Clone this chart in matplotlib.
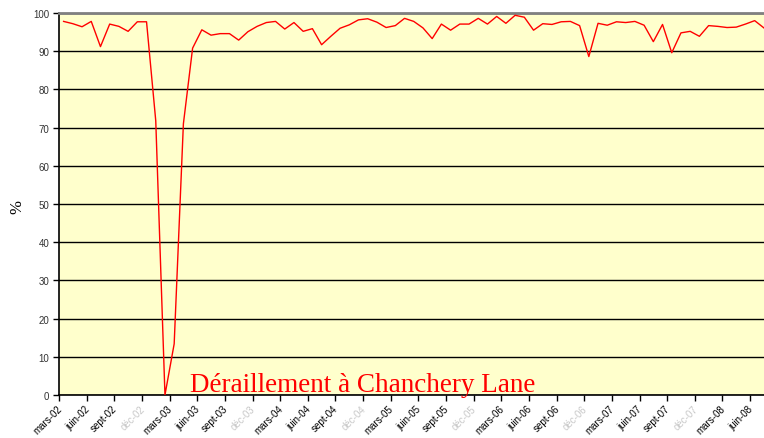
import matplotlib
matplotlib.use("Agg")
import matplotlib.pyplot as plt
import matplotlib.transforms as mtransforms

# monthly values, mars-02 .. juil-08
values = [
    97.8, 97.2, 96.4, 97.8, 91.2, 97.1, 96.5, 95.2, 97.7, 97.7,
    71.8, 0.0, 13.4, 71.0, 90.8, 95.6, 94.2, 94.6, 94.6, 92.9,
    95.1, 96.5, 97.5, 97.8, 95.8, 97.5, 95.2, 95.9, 91.7, 93.9,
    96.0, 96.9, 98.2, 98.5, 97.6, 96.2, 96.7, 98.6, 97.8, 96.1,
    93.3, 97.1, 95.5, 97.1, 97.1, 98.6, 97.1, 99.1, 97.3, 99.4,
    98.9, 95.5, 97.2, 97.0, 97.7, 97.8, 96.7, 88.6, 97.3, 96.8,
    97.7, 97.5, 97.8, 96.8, 92.5, 97.0, 89.6, 94.8, 95.2, 93.9,
    96.7, 96.5, 96.2, 96.3, 97.1, 98.0, 96.1,
]

tick_labels = [
    "mars-02", "juin-02", "sept-02", "déc-02",
    "mars-03", "juin-03", "sept-03", "déc-03",
    "mars-04", "juin-04", "sept-04", "déc-04",
    "mars-05", "juin-05", "sept-05", "déc-05",
    "mars-06", "juin-06", "sept-06", "déc-06",
    "mars-07", "juin-07", "sept-07", "déc-07",
    "mars-08", "juin-08",
]
y_ticks = list(range(0, 101, 10))

annotation = "Déraillement à Chanchery Lane"

fig = plt.figure(figsize=(7.64, 4.39), dpi=100)
ax = fig.add_axes([59 / 764, 43 / 439, 709.5 / 764, 382 / 439])
ax.set_facecolor("#FFFFCC")

x = list(range(len(values)))
ax.plot(x, values, color="#FF0000", linewidth=1.0, zorder=3)

ax.set_xlim(-0.5, len(values) - 0.5)
ax.set_ylim(0, 100)

# horizontal grid
ax.set_yticks(y_ticks)
ax.set_yticklabels([str(v) for v in y_ticks], fontsize=7, family="Liberation Sans", color="#333333")
ax.yaxis.grid(True, color="black", linewidth=1.0)
ax.set_axisbelow(True)

# category axis: tick marks between categories, labels every 3 months
ax.set_xticks([i - 0.5 for i in range(0, len(values) + 1, 3)])
ax.set_xticklabels([])
lab_pos = [i for i in range(0, len(values), 3)][:len(tick_labels)]
ax.set_xticks(lab_pos, minor=True)
ax.set_xticklabels(tick_labels, minor=True, rotation=45, ha="right",
                   rotation_mode="anchor", fontsize=7, family="Liberation Sans")
ax.tick_params(axis="x", which="minor", length=0, pad=6)
ax.tick_params(axis="x", which="major", length=4, direction="out", width=1)
ax.tick_params(axis="y", length=4, direction="out", width=1, pad=3)

offset = mtransforms.ScaledTranslation(-5 / 72, 0, fig.dpi_scale_trans)
for lab in ax.get_xticklabels(minor=True):
    lab.set_transform(lab.get_transform() + offset)
    if lab.get_text().startswith("déc"):
        lab.set_color("#C8C8C8")

for side in ["left", "bottom"]:
    ax.spines[side].set_color("black")
    ax.spines[side].set_linewidth(1.2)
ax.spines["top"].set_color("#808080")
ax.spines["top"].set_linewidth(2)
ax.spines["right"].set_color("#808080")
ax.spines["right"].set_linewidth(2)

fig.text(17 / 764, 1 - 207 / 439, "%", family="Liberation Serif", fontsize=12,
         rotation=90, ha="center", va="center")

ax.text(13.7, 1.0, annotation, color="#FF0000", family="Liberation Serif",
        fontsize=19.5, va="baseline", ha="left", zorder=4)

plt.savefig("out.png", dpi=100)
plt.close()
